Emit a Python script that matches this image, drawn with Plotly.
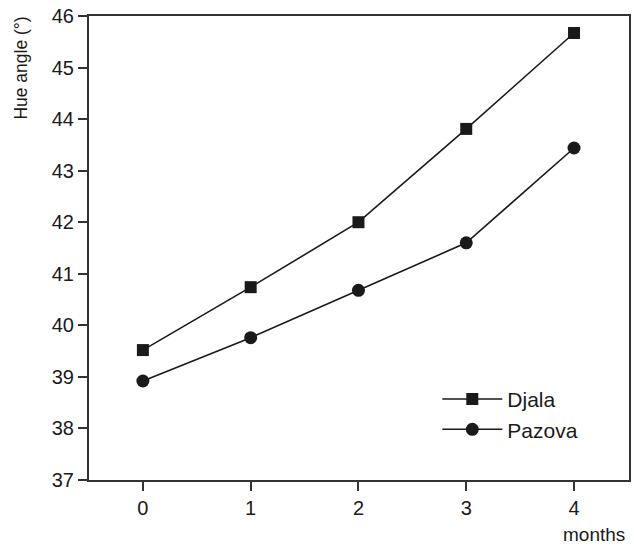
import plotly.graph_objects as go

months = [0, 1, 2, 3, 4]
djala = [39.52, 40.74, 42.0, 43.81, 45.67]
pazova = [38.92, 39.76, 40.68, 41.6, 43.44]
y_ticks = [37, 38, 39, 40, 41, 42, 43, 44, 45, 46]

FONT = "Liberation Sans, Arial, sans-serif"
INK = "#1a1a1a"

fig = go.Figure()
fig.add_trace(go.Scatter(
    x=months, y=djala, name="Djala", mode="lines+markers",
    line=dict(color=INK, width=1.6),
    marker=dict(symbol="square", size=12, color=INK),
))
fig.add_trace(go.Scatter(
    x=months, y=pazova, name="Pazova", mode="lines+markers",
    line=dict(color=INK, width=1.6),
    marker=dict(symbol="circle", size=13, color=INK),
))

axis_common = dict(
    showline=True, linecolor="#333333", linewidth=2, mirror=True,
    ticks="outside", ticklen=9, tickwidth=1.6, tickcolor="#333333",
    showgrid=False, zeroline=False, automargin=False,
    tickfont=dict(family=FONT, size=20, color=INK),
)

fig.update_layout(
    width=634, height=546,
    margin=dict(l=89, r=5, t=16, b=66),
    paper_bgcolor="white", plot_bgcolor="white",
    font=dict(family=FONT, color=INK),
    xaxis=dict(range=[-0.5, 4.51], tickvals=months, **axis_common),
    yaxis=dict(range=[37, 46], tickvals=y_ticks, **axis_common),
    legend=dict(
        x=0.645, y=0.218, xanchor="left", yanchor="top",
        bgcolor="rgba(0,0,0,0)", font=dict(family=FONT, size=21, color=INK),
        itemwidth=60,
    ),
    annotations=[
        dict(text="Hue angle (°)", textangle=-90, xref="paper", yref="paper",
             x=-0.126, y=1.004, xanchor="center", yanchor="top", showarrow=False,
             font=dict(family=FONT, size=17.5, color=INK)),
        dict(text="months", xref="paper", yref="paper",
             x=0.935, y=-0.118, xanchor="center", yanchor="middle", showarrow=False,
             font=dict(family=FONT, size=19, color=INK)),
    ],
)

# remove the browser's default 8px body margin so the figure fills the window
fig.write_html("out.html", config={"displayModeBar": False},
               post_script="document.body.style.margin='0';")
